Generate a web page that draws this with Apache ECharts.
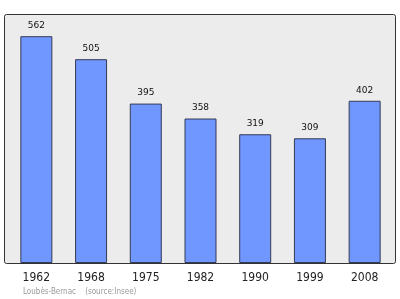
<!DOCTYPE html>
<html><head><meta charset="utf-8">
<script src="https://cdn.jsdelivr.net/npm/echarts@6/dist/echarts.min.js"></script>
<style>html,body{margin:0;padding:0;background:#fff}#c{width:400px;height:299px}</style>
</head><body><div id="c"></div>
<script>
const years = ['1962','1968','1975','1982','1990','1999','2008'];
const population = [562,505,395,358,319,309,402];
const footer = 'Loubès-Bernac    (source:Insee)';

const chart = echarts.init(document.getElementById('c'), null, {renderer:'canvas'});
chart.setOption({
  animation:false,
  backgroundColor:'#fff',
  graphic:[{type:'rect', z:0, shape:{x:4.5,y:14.5,width:391,height:249,r:2},
    style:{fill:'#ececec', stroke:'#333', lineWidth:1}}],
  title:{text:footer, left:23, top:288, padding:0,
    textStyle:{fontFamily:'DejaVu Sans Condensed, DejaVu Sans', fontSize:8, fontWeight:'normal', color:'#999'}},
  grid:{left:9, right:8, top:14, bottom:36},
  xAxis:{type:'category', data:years,
    axisLine:{show:false}, axisTick:{show:false},
    axisLabel:{margin:9, fontFamily:'DejaVu Sans Condensed, DejaVu Sans', fontSize:12, color:'#222'}},
  yAxis:{type:'value', min:0, max:617, show:false, splitLine:{show:false}},
  series:[{type:'bar', data:population, barWidth:32, z:2,
    itemStyle:{color:'#7096ff', borderColor:'#333a55', borderWidth:1},
    label:{show:true, position:'top', distance:6, fontFamily:'DejaVu Sans', fontSize:9, color:'#111'}}]
});
</script></body></html>
